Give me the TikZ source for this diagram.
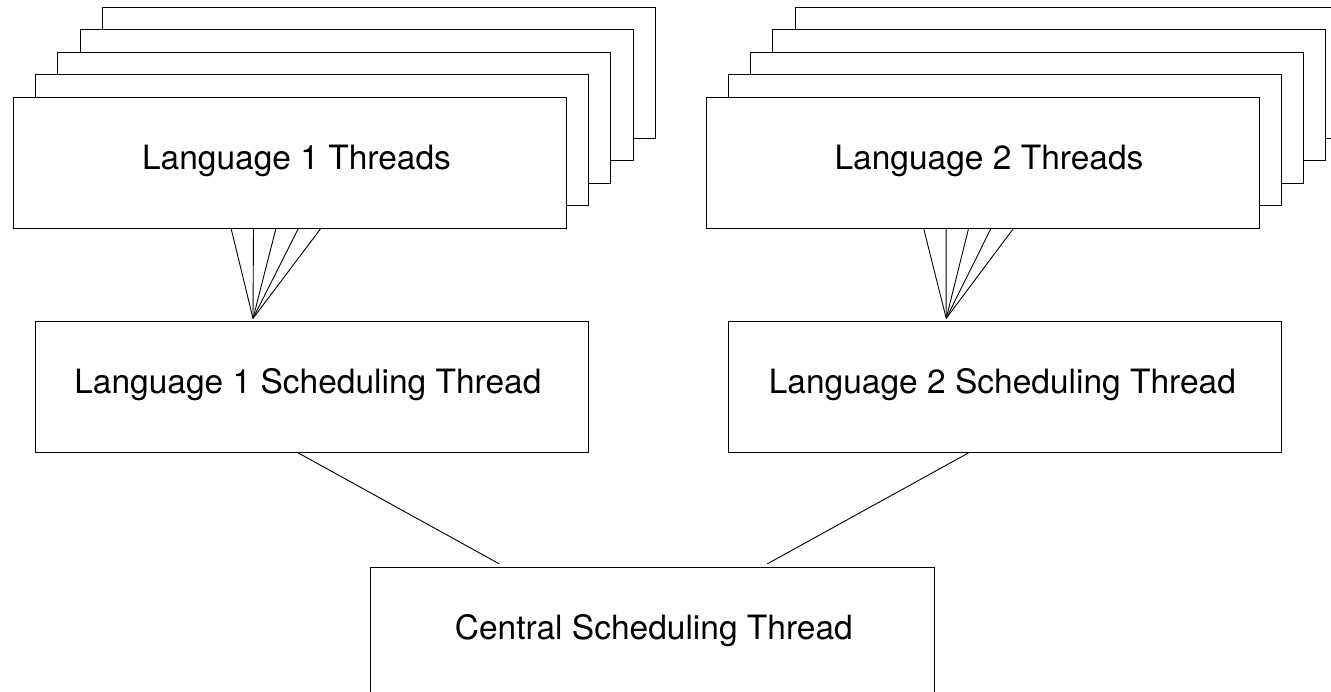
\documentclass[tikz,border=0pt]{standalone}
\usepackage{fontspec}
\setmainfont{TeX Gyre Heros}
\usetikzlibrary{calc}
\begin{document}
\begin{tikzpicture}[x=1pt,y=-1pt,
  box/.style={draw=black, line width=1pt, fill=white, minimum width=553pt,
    minimum height=131pt, inner sep=0pt,
    font=\fontsize{33.5}{40}\selectfont, text height=24pt, text depth=11pt},
  link/.style={draw=black, line width=0.9pt}]
\fill[white] (0,0) rectangle (1331,692);
\clip (0,0) rectangle (1331,692);
% Language 1 thread stack
\foreach \k in {4,3,2,1}
  \node[box] (l1b\k) at ({289.5+22.4*\k},{163-22.6*\k}) {};
\node[box] (l1f) at (289.5,163) {\hspace*{14pt}Language 1 Threads};
% Language 2 thread stack
\foreach \k in {4,3,2,1}
  \node[box] (l2b\k) at ({982.5+22.3*\k},{163-22.6*\k}) {};
\node[box] (l2f) at (982.5,163) {\hspace*{13pt}Language 2 Threads};
% scheduling threads
\node[box] (l1s) at (311.9,386.9) {\hspace*{-8pt}Language 1 Scheduling Thread};
\node[box] (l2s) at (1004.9,386.9) {\hspace*{-5pt}Language 2 Scheduling Thread};
\node[box, minimum width=564pt] (cen) at (652.3,632.8) {\hspace*{3pt}Central Scheduling Thread};
% fan connectors
\coordinate (l1a) at ($(l1s.north west)+(218.1,-2.5)$);
\coordinate (l2a) at ($(l2s.north west)+(218.3,-2.5)$);
\foreach \i in {0,...,4} {
  \coordinate (l1p\i) at ($(l1f.south west)+({218.7+22.3*\i},0)$);
  \coordinate (l2p\i) at ($(l2f.south west)+({218.3+22.3*\i},0)$);
  \draw[link] (l1p\i) -- (l1a);
  \draw[link] (l2p\i) -- (l2a);
}
% links to central
\coordinate (c1s) at ($(l1s.south west)+(263.3,0)$);
\coordinate (c1e) at ($(cen.north west)+(129.4,-3)$);
\coordinate (c2s) at ($(l2s.south west)+(240.6,0)$);
\coordinate (c2e) at ($(cen.north west)+(397.6,-3)$);
\draw[link] (c1s) -- (c1e);
\draw[link] (c2s) -- (c2e);
\end{tikzpicture}
\end{document}
